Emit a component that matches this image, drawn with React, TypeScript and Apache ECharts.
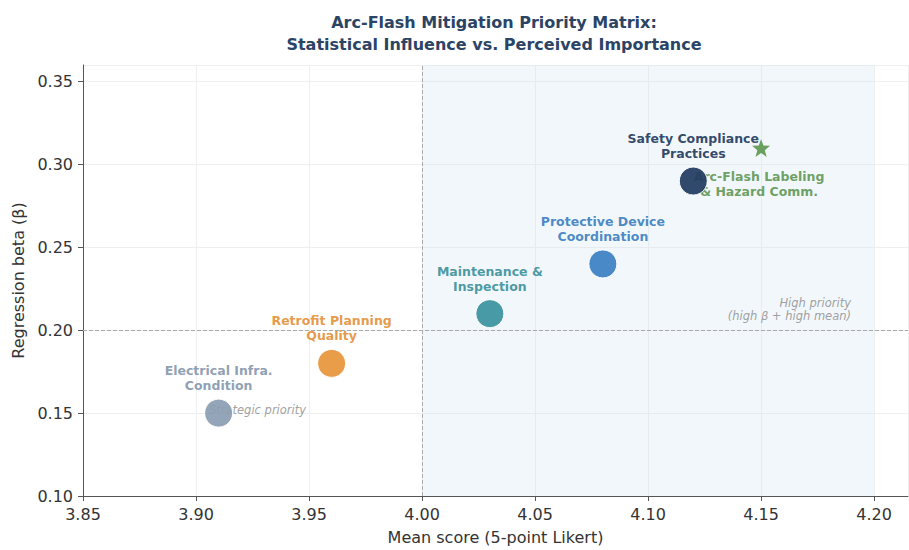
import React, { useEffect, useRef } from "react";
import * as echarts from "echarts";

const factorNames = [
  "Electrical Infra.\nCondition",
  "Retrofit Planning\nQuality",
  "Maintenance &\nInspection",
  "Protective Device\nCoordination",
  "Safety Compliance\nPractices",
];
const meanScores = [3.91, 3.96, 4.03, 4.08, 4.12];
const betas = [0.15, 0.18, 0.21, 0.24, 0.29];
const factorColors = ["#8b9db3", "#e8953a", "#3a939e", "#3b7fc2", "#1f3a60"];
const labelColors = ["#8597ae", "#e39139", "#3b919c", "#3d7fc1", "#213a5e"];

const starName = "Arc-Flash Labeling\n& Hazard Comm.";
const starMean = 4.15;
const starBeta = 0.31;
const starColor = "#4a8a3b";

const xTicks = [3.85, 3.9, 3.95, 4.0, 4.05, 4.1, 4.15, 4.2];
const yTicks = [0.1, 0.15, 0.2, 0.25, 0.3, 0.35];
const meanThreshold = 4.0;
const betaThreshold = 0.2;
const shadeRange = [4.0, 4.2];

const quadrantNotes = [
  { text: "Strategic priority", x: 3.9055, y: 0.152, side: "right" },
  { text: "High priority\n(high β + high mean)", x: 4.19, y: 0.2125, side: "left" },
];

const FONT = "DejaVu Sans";

export default function App() {
  const ref = useRef<HTMLDivElement>(null);
  useEffect(() => {
    if (!ref.current) return;
    const chart = echarts.init(ref.current, null, { renderer: "svg" });
    const fmt = (v: number, ticks: number[]) =>
      ticks.some((t) => Math.abs(t - v) < 1e-9) ? v.toFixed(2) : "";
    const option: any = {
      animation: false,
      backgroundColor: "#ffffff",
      graphic: [
        {
          type: "text",
          x: 494,
          y: 11,
          style: {
            text: "Arc-Flash Mitigation Priority Matrix:\nStatistical Influence vs. Perceived Importance",
            fill: "#2b4466",
            font: `bold 16px "${FONT}"`,
            textAlign: "center",
            lineHeight: 22,
          },
        },
      ],
      grid: { left: 83, right: 1, top: 65, bottom: 50 },
      xAxis: {
        type: "value",
        min: 3.85,
        max: 4.215,
        interval: 0.05,
        name: "Mean score (5-point Likert)",
        nameLocation: "middle",
        nameGap: 33,
        nameTextStyle: { fontFamily: FONT, fontSize: 16, color: "#333" },
        axisLine: { show: true, lineStyle: { color: "#555", width: 1 } },
        axisTick: { show: true, length: 5, lineStyle: { color: "#555" } },
        axisLabel: {
          fontFamily: FONT,
          fontSize: 16,
          color: "#333",
          margin: 10,
          showMaxLabel: false,
          formatter: (v: number) => fmt(v, xTicks),
        },
        splitLine: { show: true, lineStyle: { color: "#efefef", width: 1 } },
      },
      yAxis: {
        type: "value",
        min: 0.1,
        max: 0.36,
        interval: 0.05,
        name: "Regression beta (β)",
        nameLocation: "middle",
        nameGap: 54,
        nameTextStyle: { fontFamily: FONT, fontSize: 16, color: "#333" },
        axisLine: { show: true, lineStyle: { color: "#555", width: 1 } },
        axisTick: { show: true, length: 5, lineStyle: { color: "#555" } },
        axisLabel: {
          fontFamily: FONT,
          fontSize: 16,
          color: "#333",
          margin: 10,
          showMaxLabel: false,
          formatter: (v: number) => fmt(v, yTicks),
        },
        splitLine: { show: true, lineStyle: { color: "#efefef", width: 1 } },
      },
      series: [
        {
          type: "scatter",
          z: 1,
          symbolSize: 1,
          itemStyle: { color: "rgba(0,0,0,0)" },
          data: quadrantNotes.map((n) => ({
            value: [n.x, n.y],
            label: {
              show: true,
              position: n.side,
              distance: 0,
              formatter: n.text,
              align: n.side === "left" ? "right" : "left",
              fontFamily: FONT,
              fontSize: 11.5,
              fontStyle: "italic",
              color: "#888",
              lineHeight: 13,
            },
          })),
          markArea: {
            silent: true,
            itemStyle: { color: "rgba(205,222,240,0.25)" },
            data: [[{ xAxis: shadeRange[0] }, { xAxis: shadeRange[1] }]],
          },
          markLine: {
            silent: true,
            symbol: "none",
            label: { show: false },
            lineStyle: { color: "#aaaaaa", type: "dashed", width: 1 },
            data: [{ xAxis: meanThreshold }, { yAxis: betaThreshold }],
          },
        },
        {
          type: "scatter",
          z: 2,
          symbol: "path://M12,0 L14.94,8.09 L23.41,8.29 L16.76,13.56 L19.05,21.71 L12,16.9 L4.95,21.71 L7.24,13.56 L0.59,8.29 L9.06,8.09 Z",
          symbolSize: 18,
          itemStyle: { color: starColor },
          data: [
            {
              value: [starMean, starBeta],
              label: {
                show: true,
                position: "inside",
                offset: [-2, 36],
                formatter: starName,
                align: "center",
                fontFamily: FONT,
                fontSize: 12.5,
                fontWeight: "bold",
                color: starColor,
                lineHeight: 15,
              },
            },
          ],
        },
        {
          type: "scatter",
          z: 3,
          symbolSize: 28,
          data: meanScores.map((m, i) => ({
            value: [m, betas[i]],
            itemStyle: {
              color: factorColors[i],
              opacity: 0.92,
              borderColor: "#ffffff",
              borderWidth: 1,
            },
            label: {
              show: true,
              position: "inside",
              offset: [0, -35],
              formatter: factorNames[i],
              align: "center",
              fontFamily: FONT,
              fontSize: 12.5,
              fontWeight: "bold",
              color: labelColors[i],
              lineHeight: 15,
            },
          })),
        },
      ],
    };
    chart.setOption(option);
    return () => chart.dispose();
  }, []);
  return (
    <div
      ref={ref}
      style={{ position: "absolute", left: 0, top: 0, width: 909, height: 550 }}
    />
  );
}
